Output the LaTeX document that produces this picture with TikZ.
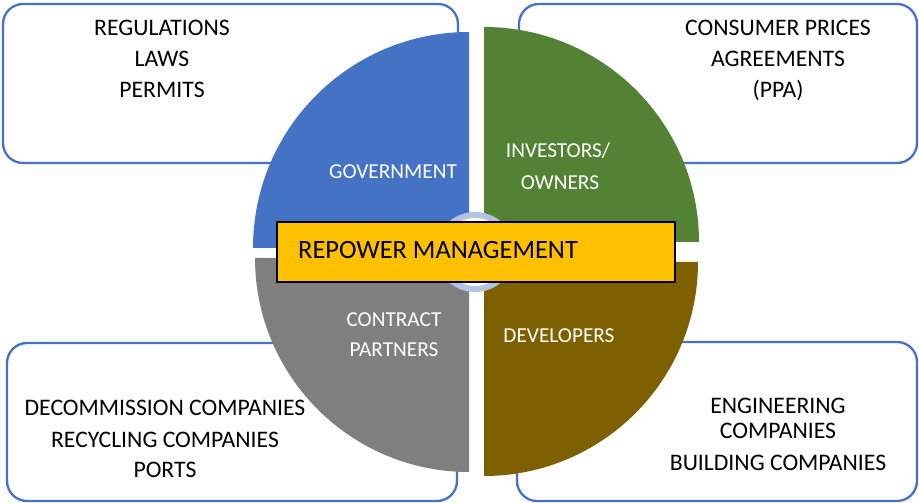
\documentclass[tikz,border=0pt]{standalone}
\usepackage{fontspec}
\setmainfont{Carlito}
\definecolor{frameblue}{HTML}{4472C4}
\definecolor{govblue}{HTML}{4472C4}
\definecolor{invgreen}{HTML}{548235}
\definecolor{partgray}{HTML}{7F7F7F}
\definecolor{devolive}{HTML}{7F6000}
\definecolor{bannergold}{HTML}{FFC000}
\definecolor{ringlilac}{HTML}{B4C2E4}
\tikzset{
  infobox/.style={draw=frameblue, line width=2.3pt, rounded corners=20pt, fill=white},
  outertext/.style={anchor=base, inner sep=0pt, font=\fontsize{23.7}{28}\selectfont, text=black},
  sectortext/.style={anchor=base, inner sep=0pt, font=\fontsize{21.3}{25}\selectfont, text=white},
  titletext/.style={anchor=base west, inner sep=0pt, font=\fontsize{26.4}{31}\selectfont, text=black},
}
\begin{document}
\begin{tikzpicture}[x=1pt,y=1pt]
\useasboundingbox (0,0) rectangle (919,503);

% stakeholder boxes
\draw[infobox] (3,499) rectangle (458,340);
\draw[infobox] (519,499) rectangle (917,340);
\draw[infobox] (7,160) rectangle (457,2);
\draw[infobox] (517,161) rectangle (917,2);

% four quarter discs
\fill[govblue]  (469,255) -- (253,255) arc[start angle=180, end angle=90, radius=216] -- cycle;
\fill[invgreen] (484,261) -- (484,476) arc[start angle=90, end angle=0, radius=215] -- cycle;
\fill[partgray] (469,245) -- (255,245) arc[start angle=180, end angle=270, radius=214] -- cycle;
\fill[devolive] (484,241) -- (698,241) arc[start angle=0, end angle=-90, radius=214] -- cycle;

% hub ring
\draw[ringlilac, line width=6pt, fill=white] (475,251) circle[radius=37];

% central banner
\fill[black!75] (278,220) rectangle (676,280);
\draw[black, line width=1.3pt, fill=bannergold] (277,221) rectangle (675,281);
\node[titletext] (title) at (298,244) {REPOWER MANAGEMENT};

% sector labels
\node[sectortext] (gov) at (393,324) {GOVERNMENT};
\node[sectortext] (inv1) at (558,345) {INVESTORS/};
\node[sectortext] (inv2) at (560,313) {OWNERS};
\node[sectortext] (con1) at (394,176) {CONTRACT};
\node[sectortext] (con2) at (394,146) {PARTNERS};
\node[sectortext] (dev) at (559,160) {DEVELOPERS};

% box contents
\node[outertext] (tl1) at (162,467) {REGULATIONS};
\node[outertext] (tl2) at (162,436) {LAWS};
\node[outertext] (tl3) at (162,405) {PERMITS};

\node[outertext] (tr1) at (778,467) {CONSUMER PRICES};
\node[outertext] (tr2) at (778,436) {AGREEMENTS};
\node[outertext] (tr3) at (778,405) {(PPA)};

\node[outertext] (bl1) at (165,87) {DECOMMISSION COMPANIES};
\node[outertext] (bl2) at (165,55) {RECYCLING COMPANIES};
\node[outertext] (bl3) at (165,25) {PORTS};

\node[outertext] (br1) at (778,89) {ENGINEERING};
\node[outertext] (br2) at (778,64) {COMPANIES};
\node[outertext] (br3) at (778,32) {BUILDING COMPANIES};
\end{tikzpicture}
\end{document}
